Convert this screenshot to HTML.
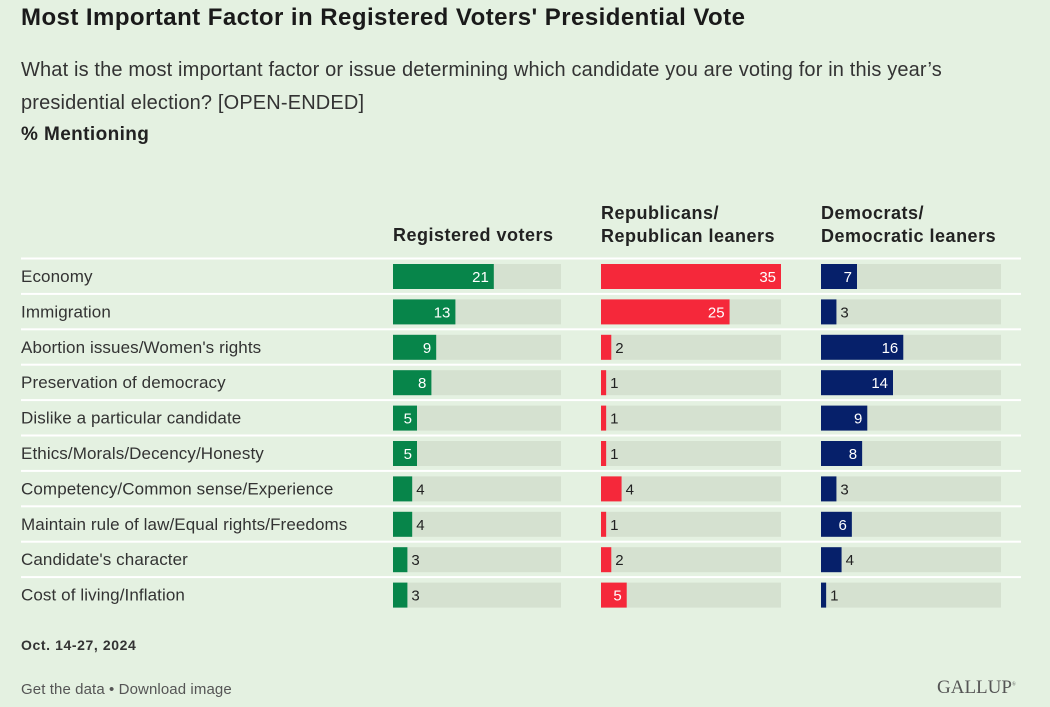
<!DOCTYPE html>
<html><head><meta charset="utf-8"><style>
body{margin:0;width:1050px;height:707px;background:#e4f1e1;font-family:"Liberation Sans",sans-serif;color:#222;position:relative;overflow:hidden}
.t{position:absolute;white-space:nowrap}
</style></head><body>
<div class="t" style="left:21px;top:4px;font-size:24px;letter-spacing:0.45px;font-weight:bold;color:#1a1a1a">Most Important Factor in Registered Voters' Presidential Vote</div>
<div class="t" style="left:21px;top:54px;font-size:20px;letter-spacing:0.15px;line-height:33px;color:#333">What is the most important factor or issue determining which candidate you are voting for in this year’s<br>presidential election? [OPEN-ENDED]</div>
<div class="t" style="left:21px;top:124px;font-size:19px;letter-spacing:0.4px;font-weight:bold">% Mentioning</div>
<div class="t" style="left:393px;top:225px;font-size:18px;letter-spacing:0.5px;font-weight:bold">Registered voters</div>
<div class="t" style="left:601px;top:202px;font-size:18px;letter-spacing:0.5px;font-weight:bold;line-height:23px">Republicans/<br>Republican leaners</div>
<div class="t" style="left:821px;top:202px;font-size:18px;letter-spacing:0.5px;font-weight:bold;line-height:23px">Democrats/<br>Democratic leaners</div>
<svg id="c" width="1050" height="707" style="position:absolute;left:0;top:0"></svg>
<div class="t" style="left:21px;top:637px;font-size:14px;letter-spacing:0.6px;font-weight:bold;color:#333">Oct. 14-27, 2024</div>
<div class="t" style="left:21px;top:681px;font-size:15px;letter-spacing:0.1px;color:#555">Get the data • Download image</div>
<div class="t" style="left:937px;top:677px;font-size:19px;font-family:'Liberation Serif',serif;color:#555">GALLUP<sup style="font-size:5px">®</sup></div>
<script>
const categories=["Economy","Immigration","Abortion issues/Women's rights","Preservation of democracy","Dislike a particular candidate","Ethics/Morals/Decency/Honesty","Competency/Common sense/Experience","Maintain rule of law/Equal rights/Freedoms","Candidate's character","Cost of living/Inflation"];
const registered=[21,13,9,8,5,5,4,4,3,3];
const republicans=[35,25,2,1,1,1,4,1,2,5];
const democrats=[7,3,16,14,9,8,3,6,4,1];
const maxVal=35;
const svg=document.getElementById('c');const NS='http://www.w3.org/2000/svg';
function mk(t,a){const e=document.createElementNS(NS,t);for(const k in a)e.setAttribute(k,a[k]);svg.appendChild(e);return e;}
const cols=[{x:393,w:168,vals:registered,color:'#07854a',n:'registered'},{x:601,w:180,vals:republicans,color:'#f5283a',n:'republican'},{x:821,w:180,vals:democrats,color:'#06206a',n:'democrat'}];
const rowY=i=>264+i*35.4;
categories.forEach((c,i)=>{
  const y=rowY(i);
  const ln=mk('rect',{x:21,y:y-6.5,width:1000,height:2,fill:'#fff'});
  
  
  const lb=mk('text',{x:21,y:y+18,'font-size':17,'letter-spacing':0.1,fill:'#333'});lb.textContent=c;
  
  
  cols.forEach(col=>{
    const tr=mk('rect',{x:col.x,y:y,width:col.w,height:25,fill:'#d5e1d0'});
    
    
    const v=col.vals[i];const w=v/maxVal*col.w;
    const b=mk('rect',{x:col.x,y:y,width:w,height:25,fill:col.color});
    
    
    const inside=w>=22;
    const t=mk('text',{x:inside?col.x+w-5:col.x+w+4,y:y+18,'font-size':15,'text-anchor':inside?'end':'start',fill:inside?'#fff':'#222'});
    t.textContent=v;
    
    
  });
});
</script>
</body></html>
